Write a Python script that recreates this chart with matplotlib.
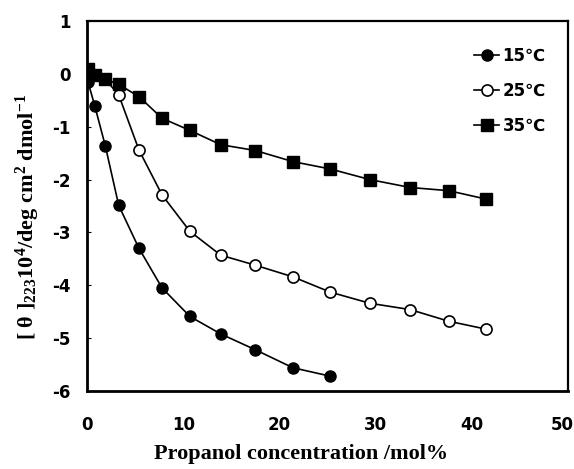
import matplotlib
matplotlib.use("Agg")
import matplotlib.pyplot as plt
import matplotlib.transforms as mtransforms

# ---- data ----
conc = [0.1, 0.8, 1.9, 3.3, 5.4, 7.8, 10.7, 13.9, 17.5, 21.4, 25.3, 29.4, 33.6, 37.6, 41.5]
theta_15 = [-0.15, -0.60, -1.36, -2.49, -3.30, -4.05, -4.59, -4.92, -5.22, -5.56, -5.72]
theta_25 = [0.05, -0.02, -0.10, -0.40, -1.44, -2.29, -2.98, -3.43, -3.62, -3.84, -4.13,
            -4.34, -4.46, -4.68, -4.83]
theta_35 = [0.10, -0.02, -0.10, -0.20, -0.43, -0.84, -1.07, -1.34, -1.45, -1.66, -1.80,
            -2.00, -2.15, -2.21, -2.37]
labels = ["15\u2103", "25\u2103", "35\u2103"]
xticks = [0, 10, 20, 30, 40, 50]
yticks = [1, 0, -1, -2, -3, -4, -5, -6]

plt.rcParams['mathtext.fontset'] = 'custom'
plt.rcParams['mathtext.rm'] = 'Liberation Serif:bold'
plt.rcParams['mathtext.it'] = 'Liberation Serif:bold'
plt.rcParams['mathtext.bf'] = 'Liberation Serif:bold'
plt.rcParams['mathtext.default'] = 'rm'

tick_font = ['DejaVu Sans']
serif_font = ['Liberation Serif', 'DejaVu Serif']

fig = plt.figure(figsize=(5.74, 4.69), dpi=100)
ax = fig.add_axes([87/574, 1 - 391/469, (568-87)/574, (391-21)/469])

ax.plot(conc[:len(theta_25)], theta_25, '-o', color='black', mfc='white', mec='black',
        ms=8, mew=1.2, lw=1.2, label=labels[1], zorder=3)
ax.plot(conc[:len(theta_35)], theta_35, '-s', color='black', mfc='black', mec='black',
        ms=8.5, lw=1.2, label=labels[2], zorder=4)
ax.plot(conc[:len(theta_15)], theta_15, '-o', color='black', mfc='black', mec='black',
        ms=8, lw=1.2, label=labels[0], zorder=5)

ax.set_xlim(0, 50)
ax.set_ylim(-6, 1)
ax.set_xticks(xticks)
ax.set_yticks(yticks)
tp = dict(family=tick_font, fontweight='bold', fontsize=12)
ax.set_xticklabels([str(t) for t in xticks], **tp)
ax.set_yticklabels([str(t) for t in yticks], **tp)
ax.tick_params(axis='x', direction='in', length=0, pad=18)
ax.tick_params(axis='y', direction='in', length=3, pad=12)
last = ax.get_xticklabels()[-1]
last.set_ha('right')
last.set_transform(last.get_transform() +
                   mtransforms.ScaledTranslation(6/100, 0, fig.dpi_scale_trans))
for s in ['left', 'bottom']:
    ax.spines[s].set_linewidth(2.0)
for s in ['top', 'right']:
    ax.spines[s].set_linewidth(1.6)

handles, labs = ax.get_legend_handles_labels()
order = [2, 0, 1]
leg = ax.legend([handles[i] for i in order], [labs[i] for i in order],
                loc='upper right', bbox_to_anchor=(0.985, 0.97), frameon=False,
                handlelength=1.5, handletextpad=0.2, labelspacing=1.0,
                prop={'family': tick_font, 'weight': 'bold', 'size': 12})

fig.text(28/574, 1 - 217/469,
         "[ \u03b8 ]$_{223}$10$^{4}$/deg cm$^{2}$ dmol$^{-1}$",
         rotation=90, ha='center', va='center', family=serif_font,
         fontweight='bold', fontsize=16)
fig.text(301/574, 1 - 454/469, "Propanol concentration /mol%",
         ha='center', va='center', family=serif_font, fontweight='bold', fontsize=16)

fig.savefig("out.png", dpi=100)
